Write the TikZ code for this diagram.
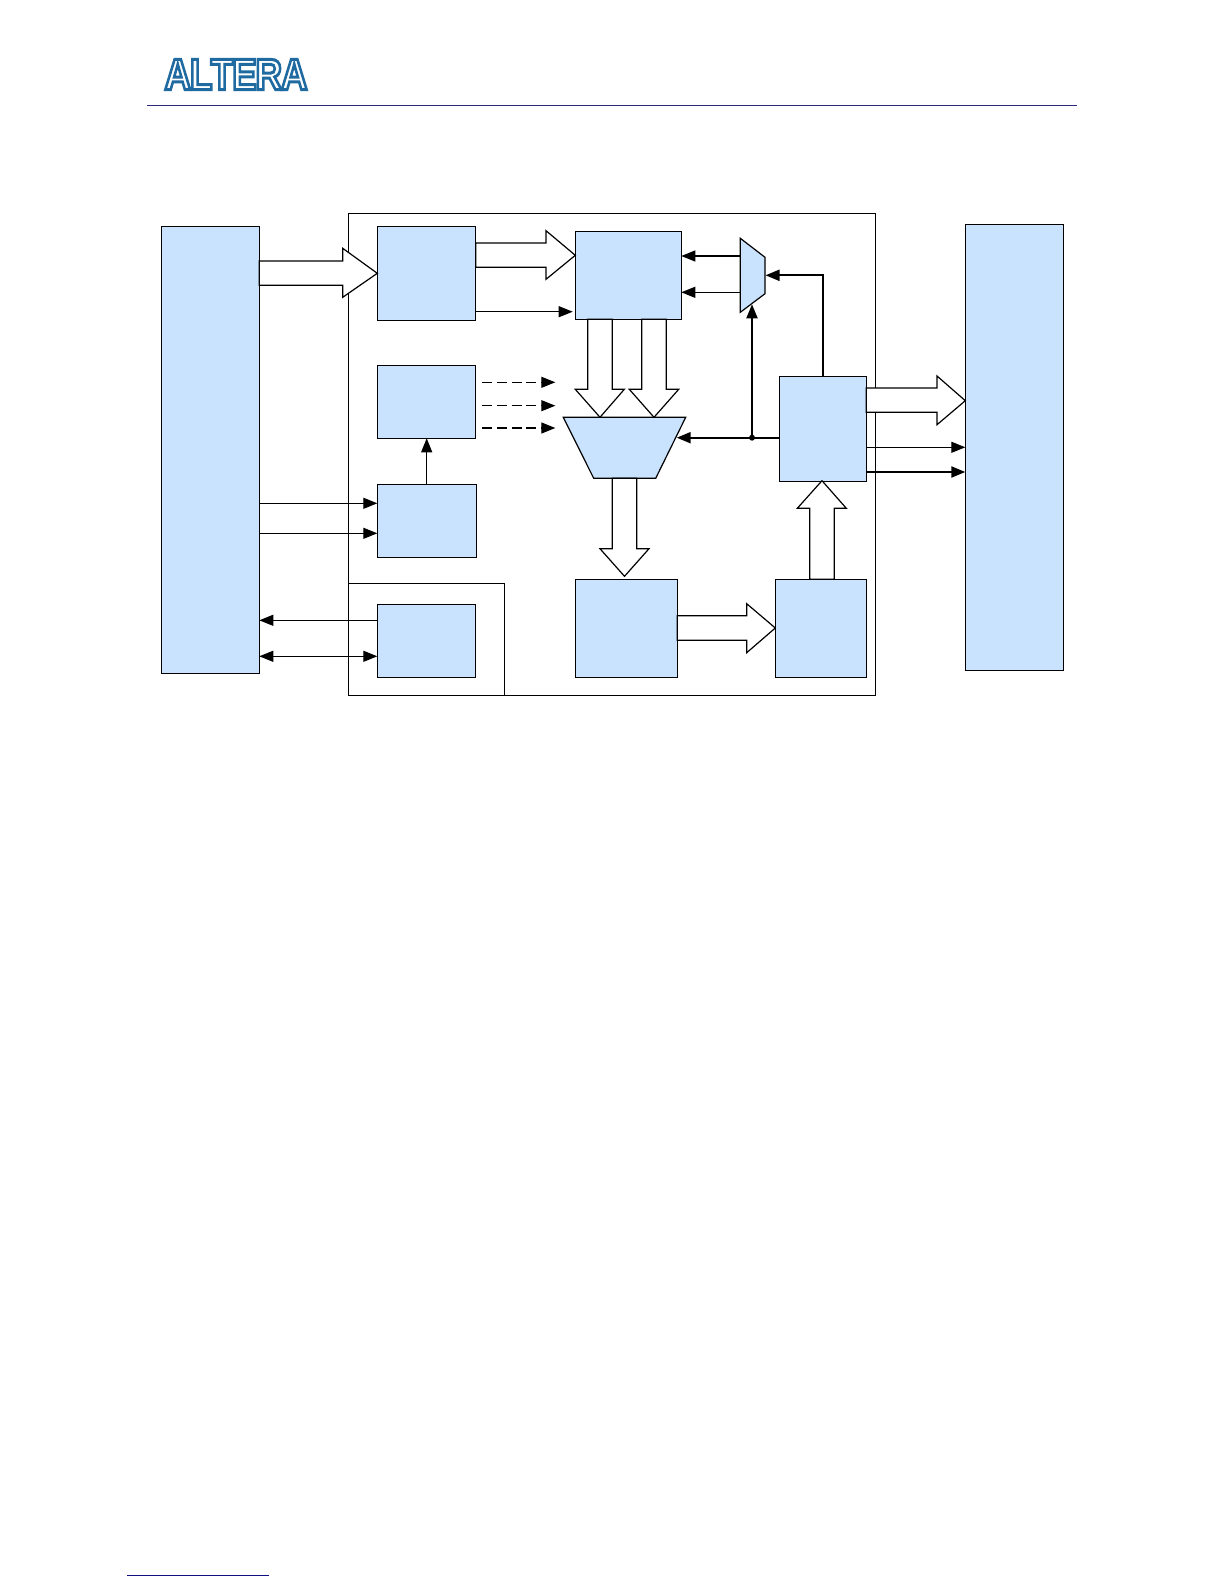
\documentclass[tikz,border=0pt]{standalone}
\usepackage{fontspec}
\setmainfont{Liberation Sans}
\usetikzlibrary{arrows.meta,calc}
\definecolor{blockblue}{HTML}{C9E2FD}
\definecolor{rulenavy}{HTML}{2E2A78}
\definecolor{footnavy}{HTML}{10107F}
\tikzset{
  blk/.style={draw=black,fill=blockblue,line width=1.2pt,inner sep=0pt,outer sep=0pt,anchor=north west},
  frameline/.style={draw=black,line width=1.2pt},
  shapeblk/.style={draw=black,fill=blockblue,line width=1.2pt,line join=miter},
  blockarrow/.style={draw=black,fill=white,line width=1.2pt,line join=miter},
  thin arrow/.style={draw=black,line width=1.2pt,-{Triangle[length=14pt,width=11pt]}},
  heavy arrow/.style={draw=black,line width=2.1pt,-{Triangle[length=14pt,width=11pt]}},
  both arrow/.style={draw=black,line width=1.2pt,{Triangle[length=14pt,width=11pt]}-{Triangle[length=14pt,width=11pt]}},
  dash arrow/.style={draw=black,line width=1.2pt,dash pattern=on 10pt off 4.7pt,-{Triangle[length=14pt,width=11pt]}},
  dotnode/.style={circle,fill=black,inner sep=0pt,minimum size=6pt},
}
\newcommand{\blockat}[5]{\node[blk,minimum width=#4pt,minimum height=#5pt] (#1) at (#2,#3) {};}
\newcommand{\logoword}{A\kern-1.5pt L\kern-2pt T\kern-1.5pt E\kern-1.5pt R\kern-1.5pt A}
\begin{document}
\begin{tikzpicture}[x=1pt,y=-1pt]
\useasboundingbox (0,0) rectangle (1224,1584);
% header and footer
\coordinate (hl) at (147.3,105.3); \coordinate (hr) at (1077,105.3);
\draw[rulenavy,line width=1pt] (hl) -- (hr);
\coordinate (fl) at (127,1575.3); \coordinate (fr) at (269,1575.3);
\draw[footnavy,line width=1.2pt] (fl) -- (fr);
\node[inner sep=0pt] (logo) at (236,74.5) {\fontsize{44}{44}\bfseries\color{white}\scalebox{0.84}[1]{\special{pdf:code 2 Tr 3 w 0.12 0.42 0.63 RG 1 1 1 rg}\logoword\special{pdf:code 0 Tr 1 w 0 0 0 RG}}};
% frames
\draw[frameline] (348.7,213.3) rectangle (875.3,695.3);
\draw[frameline] (348.7,583.3) -- (504.3,583.3) -- (504.3,695.3);
% blocks
\blockat{L}{161.3}{226.3}{98}{447}
\blockat{R}{965.3}{224.3}{98}{446}
\blockat{A}{377.3}{226.3}{98.4}{94}
\blockat{B}{575.3}{231.3}{106}{88}
\blockat{C}{377.3}{365.3}{98.4}{73}
\blockat{D}{377.3}{484.3}{99.4}{73}
\blockat{E}{377.3}{604.3}{98.4}{73}
\blockat{F}{575.3}{579.3}{102}{98}
\blockat{G}{775.3}{579.3}{91}{98}
\blockat{H}{779.3}{376.3}{87}{105}
% trapezoid and small mux
\draw[shapeblk] (563.3,417.3) coordinate (tl) -- (685.7,417.3) coordinate (tr) -- (655.7,478.3) coordinate (br) -- (593.7,478.3) coordinate (bl) -- cycle;
\draw[shapeblk] (740.3,238.3) coordinate (ma) -- (765,257.3) coordinate (mb) -- (765,293.7) coordinate (mc) -- (740.3,312.3) coordinate (md) -- cycle;
% block arrows
\draw[blockarrow] (L.east |- 0,261) -- (342.7,261) -- (342.7,248.3) -- (A.west |- 0,273.3) -- (342.7,297.3) -- (342.7,285.3) -- (L.east |- 0,285.3) -- cycle;
\draw[blockarrow] (A.east |- 0,243) -- (546,243) -- (546,230.7) -- (B.west |- 0,255.3) -- (546,279.3) -- (546,267.3) -- (A.east |- 0,267.3) -- cycle;
\draw[blockarrow] (587.7,319.3) -- (587.7,389.3) -- (575.3,389.3) -- (600,417.3) -- (624.3,389.3) -- (612.3,389.3) -- (612.3,319.3) -- cycle;
\draw[blockarrow] (641.7,319.3) -- (641.7,389.3) -- (629.3,389.3) -- (654,417.3) -- (678.7,389.3) -- (666.3,389.3) -- (666.3,319.3) -- cycle;
\draw[blockarrow] (612.3,478.3) -- (612.3,548.7) -- (600,548.7) -- (624.5,576.3) -- (649,548.7) -- (636.7,548.7) -- (636.7,478.3) -- cycle;
\draw[blockarrow] (F.east |- 0,615.7) -- (746.7,615.7) -- (746.7,603.7) -- (G.west |- 0,628) -- (746.7,652.7) -- (746.7,640.3) -- (F.east |- 0,640.3) -- cycle;
\draw[blockarrow] (809.7,579.3) -- (809.7,508.3) -- (797.3,508.3) -- (822,480.7) -- (846.3,508.3) -- (834.3,508.3) -- (834.3,579.3) -- cycle;
\draw[blockarrow] (H.east |- 0,388) -- (937,388) -- (937,376) -- (R.west |- 0,400.7) -- (937,424.7) -- (937,412.3) -- (H.east |- 0,412.3) -- cycle;
% thin arrows
\draw[thin arrow] (A.east |- 0,311.7) -- (572.7,311.7);
\coordinate (d1) at (482.3,382.3); \coordinate (d2) at (482.3,405.7); \coordinate (d3) at (482.3,428);
\draw[dash arrow] (d1) -- ++(73,0);
\draw[dash arrow] (d2) -- ++(73,0);
\draw[dash arrow] (d3) -- ++(73,0);
\draw[thin arrow] (D.north -| 426.7,0) -- (C.south -| 426.7,0);
\draw[thin arrow] (L.east |- 0,503.3) -- (D.west |- 0,503.3);
\draw[thin arrow] (L.east |- 0,533.3) -- (D.west |- 0,533.3);
\draw[thin arrow] (E.west |- 0,620.3) -- (L.east |- 0,620.3);
\draw[both arrow] (L.east |- 0,656.3) -- (E.west |- 0,656.3);
\draw[thin arrow] (740.3,256) -- (B.east |- 0,256);
\draw[thin arrow] (740.3,292.3) -- (B.east |- 0,292.3);
\draw[heavy arrow] (H.north -| 823,0) -- (823,275.3) -- (765.5,275.3);
\draw[heavy arrow] (H.west |- 0,437.7) -- (676.7,437.7);
\node[dotnode] (jn) at (752,437.7) {};
\draw[heavy arrow] (jn) -- (752,304.3);
\draw[thin arrow] (H.east |- 0,447.3) -- (R.west |- 0,447.3);
\draw[heavy arrow] (H.east |- 0,472) -- (R.west |- 0,472);
\end{tikzpicture}
\end{document}
